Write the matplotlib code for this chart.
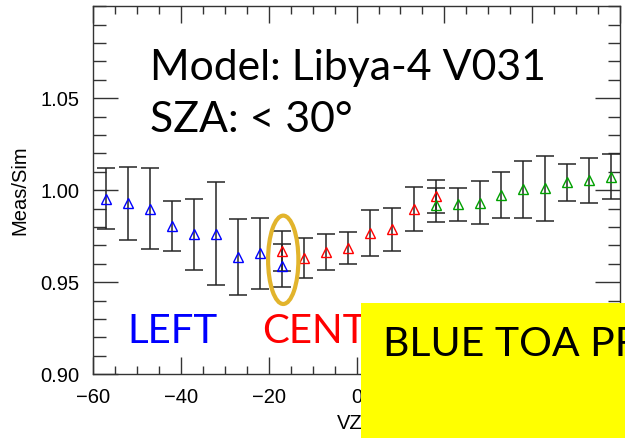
import matplotlib
matplotlib.use("Agg")
import matplotlib.pyplot as plt
from matplotlib.patches import Ellipse, Rectangle
from matplotlib.ticker import MultipleLocator, FormatStrFormatter

# Meas/Sim ratio per VZA bin, one array per camera
left_vza = [-57, -52, -47, -42, -37, -32, -27, -22, -17]
left_ratio = [0.9955, 0.9928, 0.9899, 0.9805, 0.9762, 0.9764, 0.9636, 0.9658, 0.9591]
left_err = [0.0166, 0.0197, 0.0220, 0.0136, 0.0193, 0.0278, 0.0205, 0.0192, 0.0115]

center_vza = [-17, -12, -7, -2, 3, 8, 13, 18]
center_ratio = [0.9669, 0.9630, 0.9666, 0.9686, 0.9767, 0.9787, 0.9898, 0.9966]
center_err = [0.0107, 0.0109, 0.0097, 0.0085, 0.0127, 0.0119, 0.0120, 0.0089]

right_vza = [18, 23, 28, 33, 38, 43, 48, 53, 58]
right_ratio = [0.9919, 0.9923, 0.9932, 0.9973, 1.0005, 1.0010, 1.0042, 1.0054, 1.0074]
right_err = [0.0092, 0.0090, 0.0117, 0.0124, 0.0154, 0.0177, 0.0102, 0.0122, 0.0123]

y_ticks = [0.90, 0.95, 1.00, 1.05]

# overlap bin that gets circled
overlap_vza = -16.7
overlap_ratio = 0.9622

TICK_FONT = "Liberation Sans"
NOTE_FONT = "Lato"

fig = plt.figure(figsize=(6.25, 4.38), dpi=100)
ax = fig.add_axes([0.149, 0.1454, 0.843, 0.8406])

series = [
    (left_vza, left_ratio, left_err, "#0000ff"),
    (center_vza, center_ratio, center_err, "#ff0000"),
    (right_vza, right_ratio, right_err, "#00a000"),
]
for vza, ratio, err, col in series:
    ax.errorbar(vza, ratio, yerr=err, fmt="none", ecolor="0.15", elinewidth=1.1,
                capsize=6.5, capthick=1.1, zorder=2)
    ax.plot(vza, ratio, linestyle="none", marker="^", markersize=6.5,
            markerfacecolor="none", markeredgecolor=col, markeredgewidth=1.0, zorder=3)

ax.add_patch(Ellipse((overlap_vza, overlap_ratio), width=6.9, height=0.048,
                     fill=False, edgecolor="#e2b42c", linewidth=3, zorder=4))

ax.set_xlim(-60, 60)
ax.set_ylim(0.90, 1.10)
ax.xaxis.set_major_locator(MultipleLocator(20))
ax.xaxis.set_minor_locator(MultipleLocator(5))
ax.set_yticks(y_ticks)
ax.yaxis.set_minor_locator(MultipleLocator(0.01))
ax.yaxis.set_major_formatter(FormatStrFormatter("%.2f"))

ax.tick_params(axis="both", which="both", direction="in", top=True, right=True,
               color="0.2", width=1.0)
ax.tick_params(axis="x", which="major", length=12, pad=10)
ax.tick_params(axis="x", which="minor", length=5.5)
ax.tick_params(axis="y", which="major", length=18, pad=10)
ax.tick_params(axis="y", which="minor", length=9)
for lab in ax.get_xticklabels() + ax.get_yticklabels():
    lab.set_fontfamily(TICK_FONT)
    lab.set_fontsize(14.5)
for sp in ax.spines.values():
    sp.set_color("0.2")
    sp.set_linewidth(1.0)

ax.set_xlabel("VZA", family=TICK_FONT, fontsize=14.5, labelpad=5)
ax.set_ylabel("Meas/Sim", family=TICK_FONT, fontsize=14.5, labelpad=8)

# slide annotations
fig.text(0.24, 1 - 80 / 438, "Model: Libya-4 V031", family=NOTE_FONT, fontsize=30.8,
         va="baseline", ha="left")
fig.text(0.24, 1 - 131.5 / 438, "SZA: < 30°", family=NOTE_FONT, fontsize=30.8,
         va="baseline", ha="left")
fig.text(127 / 625, 1 - 343 / 438, "LEFT", family=NOTE_FONT, fontsize=29,
         color="#0000ff", va="baseline", ha="left")
fig.text(262 / 625, 1 - 343 / 438, "CENTER", family=NOTE_FONT, fontsize=29,
         color="#ff0000", va="baseline", ha="left", zorder=0.5)

fig.patches.append(Rectangle((361 / 625, 0), 1 - 361 / 625, (438 - 303) / 438,
                             transform=fig.transFigure, facecolor="#ffff00",
                             edgecolor="none", zorder=1))
fig.text(383 / 625, 1 - 356 / 438, "BLUE TOA PR", family=NOTE_FONT, fontsize=29.5,
         color="black", va="baseline", ha="left", zorder=5)

fig.savefig("out.png", dpi=100)
